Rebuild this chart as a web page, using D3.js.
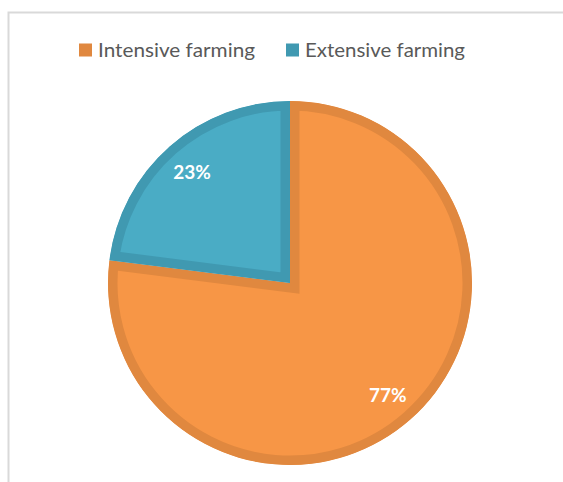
<!DOCTYPE html>
<html>
<head>
<meta charset="utf-8">
<script src="https://cdn.jsdelivr.net/npm/d3@7"></script>
<style>
  html, body { margin: 0; padding: 0; background: #fff; }
  svg { display: block; }
</style>
</head>
<body>
<svg id="chart" width="563" height="482"></svg>
<script>
// Share of farming systems
const categories = ["Intensive farming", "Extensive farming"];
const values = [77, 23];
const labels = ["77%", "23%"];
const fills = ["#F79646", "#4AACC5"];
const edges = ["#E0883F", "#4099B1"];

const svg = d3.select("#chart");
const W = 563, H = 482;

// chart area frame
svg.append("rect")
  .attr("x", 8.5).attr("y", 12.5)
  .attr("width", W + 20).attr("height", H + 20)
  .attr("fill", "#fff")
  .attr("stroke", "#D9D9D9")
  .attr("stroke-width", 2);

const cx = 290, cy = 283, R = 182;

const pie = d3.pie().sort(null).value(d => d);
const arcs = pie(values);
const arc = d3.arc().innerRadius(0).outerRadius(R);
const labelArc = d3.arc().innerRadius(148).outerRadius(148);

const g = svg.append("g").attr("transform", `translate(${cx},${cy})`);
const defs = svg.append("defs");

arcs.forEach((a, i) => {
  const id = "slice-clip-" + i;
  defs.append("clipPath").attr("id", id)
    .append("path").attr("d", arc(a));
  // inner border: stroke clipped to the slice
  g.append("path")
    .attr("d", arc(a))
    .attr("fill", fills[i])
    .attr("stroke", edges[i])
    .attr("stroke-width", 19)
    .attr("stroke-linejoin", "miter")
    .attr("clip-path", `url(#${id})`);
});

// data labels
g.selectAll("text.val")
  .data(arcs)
  .join("text")
  .attr("class", "val")
  .attr("transform", d => `translate(${labelArc.centroid(d)})`)
  .attr("text-anchor", "middle")
  .attr("dominant-baseline", "central")
  .attr("font-family", "Lato, 'Open Sans', sans-serif")
  .attr("font-weight", "bold")
  .attr("font-size", 19)
  .attr("fill", "#FFFFFF")
  .text((d, i) => labels[i]);

// legend
const legendItems = [
  { x: 79, tx: 98, tw: 157 },
  { x: 286, tx: 305, tw: 160 }
];
const legend = svg.append("g");
categories.forEach((c, i) => {
  legend.append("rect")
    .attr("x", legendItems[i].x).attr("y", 43.5)
    .attr("width", 13).attr("height", 13)
    .attr("fill", edges[i]);
  legend.append("text")
    .attr("x", legendItems[i].tx).attr("y", 57)
    .attr("font-family", "Lato, 'Open Sans', sans-serif")
    .attr("font-size", 20)
    .attr("fill", "#595959")
    .attr("textLength", legendItems[i].tw)
    .attr("lengthAdjust", "spacingAndGlyphs")
    .text(c);
});
</script>
</body>
</html>
